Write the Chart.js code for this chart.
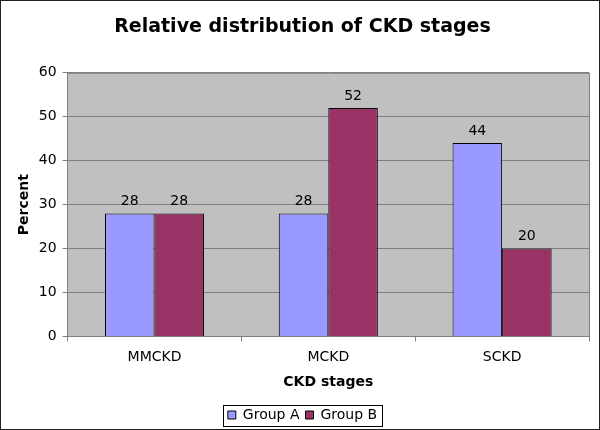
<!DOCTYPE html>
<html>
<head>
<meta charset="utf-8">
<script src="https://cdn.jsdelivr.net/npm/chart.js@4"></script>
<style>
  body { margin: 0; background: #fff; }
  #wrap { width: 600px; height: 430px; box-sizing: border-box; border: 1px solid #222; }
</style>
</head>
<body>
<div id="wrap"><canvas id="ckdChart" width="598" height="428"></canvas></div>
<script>
const categories = ['MMCKD', 'MCKD', 'SCKD'];
const groupA = [28, 28, 44];
const groupB = [28, 52, 20];
const yTicks = [0, 10, 20, 30, 40, 50, 60];

const FONT = 'Verdana, "DejaVu Sans", sans-serif';

// grey plot area like the old excel charts
const plotBg = {
  id: 'plotBg',
  beforeDraw(chart) {
    const a = chart.chartArea;
    const ctx = chart.ctx;
    ctx.save();
    ctx.fillStyle = '#c0c0c0';
    ctx.fillRect(a.left, a.top, a.right - a.left, a.bottom - a.top);
    ctx.restore();
  },
  afterDraw(chart) {
    const a = chart.chartArea;
    const ctx = chart.ctx;
    ctx.save();
    ctx.strokeStyle = '#808080';
    ctx.lineWidth = 1;
    ctx.beginPath();
    ctx.moveTo(a.right + 0.5, a.top);
    ctx.lineTo(a.right + 0.5, a.bottom);
    ctx.moveTo(a.left, a.top + 0.5);
    ctx.lineTo(a.right, a.top + 0.5);
    ctx.stroke();
    // box round the legend items
    const boxes = chart.legend.legendHitBoxes;
    if (boxes && boxes.length) {
      const l = Math.min(...boxes.map(b => b.left)) - 5;
      const r = Math.max(...boxes.map(b => b.left + b.width)) + 5;
      const t = Math.min(...boxes.map(b => b.top)) - 3;
      const btm = Math.max(...boxes.map(b => b.top + b.height)) + 4;
      ctx.strokeStyle = '#000';
      ctx.strokeRect(Math.round(l) + 0.5, Math.round(t) + 0.5, Math.round(r - l), Math.round(btm - t));
    }
    ctx.restore();
  }
};

// value labels on top of the bars
const barLabels = {
  id: 'barLabels',
  afterDatasetsDraw(chart) {
    const ctx = chart.ctx;
    ctx.save();
    ctx.font = '14px ' + FONT;
    ctx.fillStyle = '#000';
    ctx.textAlign = 'center';
    ctx.textBaseline = 'bottom';
    chart.data.datasets.forEach((ds, i) => {
      chart.getDatasetMeta(i).data.forEach((bar, j) => {
        ctx.fillText(ds.data[j], bar.x, bar.y - 5);
      });
    });
    ctx.restore();
  }
};

new Chart(document.getElementById('ckdChart'), {
  type: 'bar',
  data: {
    labels: categories,
    datasets: [{
      label: 'Group A',
      data: groupA,
      backgroundColor: '#9999ff',
      borderColor: '#000',
      borderWidth: 1,
      barPercentage: 1,
      categoryPercentage: 0.57
    }, {
      label: 'Group B',
      data: groupB,
      backgroundColor: '#993366',
      borderColor: '#000',
      borderWidth: 1,
      barPercentage: 1,
      categoryPercentage: 0.57
    }]
  },
  options: {
    responsive: false,
    animation: false,
    layout: { padding: { left: 15, right: 10, top: 0, bottom: -3 } },
    plugins: {
      title: {
        display: true,
        text: 'Relative distribution of CKD stages',
        color: '#000',
        font: { family: FONT, size: 19, weight: 'bold' },
        padding: { top: 15, bottom: 34 }
      },
      legend: {
        position: 'bottom',
        labels: {
          color: '#000',
          font: { family: FONT, size: 14 },
          boxWidth: 8,
          boxHeight: 8,
          padding: 6
        }
      },
      tooltip: { enabled: false }
    },
    scales: {
      x: {
        grid: { drawOnChartArea: false, color: '#808080', tickLength: 5 },
        border: { color: '#808080' },
        ticks: { color: '#000', font: { family: FONT, size: 14 }, padding: 8 },
        title: {
          display: true,
          text: 'CKD stages',
          color: '#000',
          font: { family: FONT, size: 14, weight: 'bold' },
          padding: { top: 0, bottom: 11 }
        }
      },
      y: {
        min: 0,
        max: 60,
        afterBuildTicks(axis) { axis.ticks = yTicks.map(v => ({ value: v })); },
        grid: { color: '#808080', tickLength: 5 },
        border: { color: '#808080' },
        ticks: { color: '#000', font: { family: FONT, size: 14 }, padding: 6 },
        title: {
          display: true,
          text: 'Percent',
          color: '#000',
          font: { family: FONT, size: 14, weight: 'bold' },
          padding: { top: 0, bottom: 0 }
        }
      }
    }
  },
  plugins: [plotBg, barLabels]
});
</script>
</body>
</html>
